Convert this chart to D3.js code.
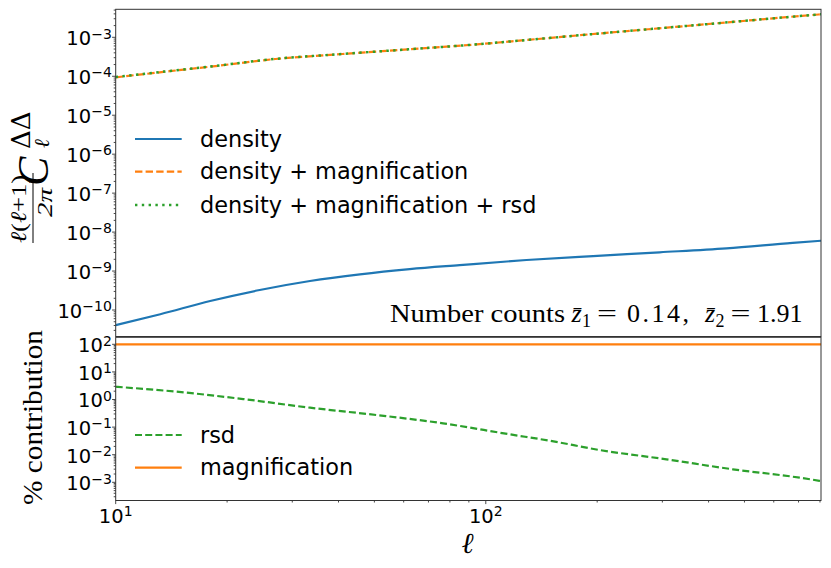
<!DOCTYPE html>
<html><head><meta charset="utf-8">
<script src="https://cdn.jsdelivr.net/npm/d3@7"></script>
<style>body{margin:0;background:#fff}svg{display:block}</style>
</head><body>
<script>
// ---- data ----
const ellTop = [10, 14, 18, 27, 41, 62, 90, 130, 200, 300, 450, 650, 805];
const densMag = [9.4e-5, 1.35e-4, 1.76e-4, 2.77e-4, 3.73e-4, 4.92e-4, 6.34e-4, 8.6e-4, 1.24e-3, 1.73e-3, 2.42e-3, 3.29e-3, 3.9e-3];
const densMagRsd = [9.6e-5, 1.37e-4, 1.78e-4, 2.79e-4, 3.74e-4, 4.93e-4, 6.35e-4, 8.6e-4, 1.24e-3, 1.73e-3, 2.42e-3, 3.29e-3, 3.9e-3];
const ellDens = [10, 13.2, 18, 24.5, 33.5, 45.7, 62.3, 85, 128.8, 195, 295, 447, 675, 805];
const density = [4.1e-11, 7.8e-11, 1.7e-10, 3.26e-10, 5.55e-10, 8.24e-10, 1.12e-9, 1.42e-9, 1.92e-9, 2.43e-9, 3.03e-9, 3.83e-9, 5.3e-9, 6.0e-9];
const ellRsd = [10, 14.6, 22.1, 33.5, 50.7, 76.7, 116, 149, 203, 307.6, 465, 705, 805];
const rsd = [2.9, 1.92, 1.04, 0.505, 0.274, 0.137, 0.0548, 0.0321, 0.0148, 0.0068, 0.00296, 0.00147, 0.00111];
const ellMag = [10, 30, 100, 300, 805];
const magnification = [100, 100, 100, 100, 100];
const topTickExps = [-3, -4, -5, -6, -7, -8, -9, -10];
const botTickExps = [2, 1, 0, -1, -2, -3];
const xTickExps = [1, 2];
const topLegend = ["density", "density + magnification", "density + magnification + rsd"];
const botLegend = ["rsd", "magnification"];

const W = 831, H = 568;
const C = {blue: "#1f77b4", orange: "#ff7f0e", green: "#2ca02c"};
const L = 115.7, R = 821;
const topT = 9.3, topB = 336.5, botT = 337.3, botB = 500.5;

const x = d3.scaleLog().domain([10, 805]).range([L, R]);
const yTop = d3.scaleLog().domain([Math.pow(10, -10.68), Math.pow(10, -2.281)]).range([topB, topT]);
const yBot = d3.scaleLog().domain([Math.pow(10, -3.659), Math.pow(10, 2.254)]).range([botB, botT]);

const svg = d3.select("body").append("svg").attr("width", W).attr("height", H);
const defs = svg.append("defs");
defs.append("clipPath").attr("id", "cTop").append("rect").attr("x", L).attr("y", topT).attr("width", R - L).attr("height", topB - topT);
defs.append("clipPath").attr("id", "cBot").append("rect").attr("x", L).attr("y", botT).attr("width", R - L).attr("height", botB - botT);

function drawLine(g, xs, ys, yS, color, dash, w) {
  const line = d3.line().curve(d3.curveMonotoneX).x((d, i) => x(xs[i])).y(d => yS(d));
  g.append("path").datum(ys).attr("d", line).attr("fill", "none")
    .attr("stroke", color).attr("stroke-width", w || 2.2)
    .attr("stroke-dasharray", dash || null);
}

const gTop = svg.append("g").attr("clip-path", "url(#cTop)");
drawLine(gTop, ellDens, density, yTop, C.blue);
drawLine(gTop, ellTop, densMag, yTop, C.orange, "7.4,3.2");
drawLine(gTop, ellTop, densMagRsd, yTop, C.green, "2.4,4.4", 2.5);

const gBot = svg.append("g").attr("clip-path", "url(#cBot)");
drawLine(gBot, ellMag, magnification, yBot, C.orange);
drawLine(gBot, ellRsd, rsd, yBot, C.green, "7,3.2");

// frames
const frame = svg.append("g").attr("fill", "none").attr("stroke", "#333").attr("stroke-width", 1);
frame.append("rect").attr("x", L).attr("y", topT).attr("width", R - L).attr("height", topB - topT);
frame.append("rect").attr("x", L).attr("y", botT).attr("width", R - L).attr("height", botB - botT);

// ticks
const tk = svg.append("g").attr("stroke", "#333").attr("stroke-width", 0.9);
function yTicks(yS, lo, hi) {
  for (let e = lo; e <= hi; e++) {
    for (let k = 1; k <= 9; k++) {
      const v = k * Math.pow(10, e);
      const [d0, d1] = yS.domain();
      if (v < d0 || v > d1) continue;
      const len = k === 1 ? 3.6 : 2;
      tk.append("line").attr("x1", L - len).attr("x2", L).attr("y1", yS(v)).attr("y2", yS(v));
    }
  }
}
yTicks(yTop, -11, -3);
yTicks(yBot, -4, 2);
for (let e = 1; e <= 2; e++) {
  for (let k = 1; k <= 9; k++) {
    const v = k * Math.pow(10, e);
    if (v < 10 || v > 805) continue;
    const len = k === 1 ? 3.6 : 2;
    tk.append("line").attr("y1", botB).attr("y2", botB + len).attr("x1", x(v)).attr("x2", x(v));
  }
}

// tick labels
const sans = "DejaVu Sans, sans-serif";
function powLabel(px, py, exp, anchor) {
  const t = svg.append("text").attr("x", px).attr("y", py)
    .attr("font-family", sans).attr("font-size", 19.5).attr("fill", "#000")
    .attr("text-anchor", anchor);
  t.append("tspan").text("10");
  t.append("tspan").attr("font-size", 14).attr("dy", -6.6).text(String(exp).replace("-", "\u2212"));
}
topTickExps.forEach(e => powLabel(111.8, yTop(Math.pow(10, e)) + 7.8, e, "end"));
botTickExps.forEach(e => powLabel(111.8, yBot(Math.pow(10, e)) + 7.8, e, "end"));
xTickExps.forEach(e => powLabel(x(Math.pow(10, e)), 523, e, "middle"));

// legends
function legend(items, colors, dashes, widths, ys) {
  items.forEach((name, i) => {
    svg.append("line").attr("x1", 135).attr("x2", 181.7).attr("y1", ys[i]).attr("y2", ys[i])
      .attr("stroke", colors[i]).attr("stroke-width", widths[i]).attr("stroke-dasharray", dashes[i] || null);
    svg.append("text").attr("x", 200).attr("y", ys[i] + 7.6).attr("font-family", sans)
      .attr("font-size", 22.4).attr("fill", "#000").text(name);
  });
}
legend(topLegend, [C.blue, C.orange, C.green], [null, "7.4,3.2", "2.4,4.4"], [2.2, 2.2, 2.5], [139, 171.7, 205]);
legend(botLegend, [C.green, C.orange], ["7,3.2", null], [2.2, 2.2], [435, 467.7]);

// annotation
const serif = "Liberation Serif, DejaVu Serif, serif";
const ann = svg.append("g").attr("font-family", serif).attr("font-size", 26).attr("fill", "#000");
function piece(tx, px, py, opts) {
  const t = ann.append("text").attr("x", px).attr("y", py).text(tx);
  if (opts && opts.italic) t.attr("font-style", "italic");
  if (opts && opts.size) t.attr("font-size", opts.size);
  if (opts && opts.len) t.attr("textLength", opts.len).attr("lengthAdjust", opts.adj || "spacingAndGlyphs");
  return t;
}
const by = 321.5;
piece("Number counts", 390, by, {len: 175});
piece("z\u0304", 571.5, by, {italic: true});
piece("1", 582, by + 5, {size: 18});
piece("=", 597, by, {len: 20});
piece("0.14,", 627, by, {len: 62, adj: "spacing"});
piece("z\u0304", 705, by, {italic: true});
piece("2", 715.5, by + 5, {size: 18});
piece("=", 730.5, by, {len: 20});
piece("1.91", 757, by);

// y label top: l(l+1)/2pi C_l^{DD}
const yl = svg.append("g").attr("transform", "translate(48,175) rotate(-90)")
  .attr("font-family", serif).attr("fill", "#000");
const num = yl.append("text").attr("x", -68).attr("y", -22).attr("font-size", 22)
  .attr("textLength", 68).attr("lengthAdjust", "spacingAndGlyphs");
num.append("tspan").attr("font-style", "italic").text("ℓ");
num.append("tspan").text("(");
num.append("tspan").attr("font-style", "italic").text("ℓ");
num.append("tspan").text("+1)");
yl.append("line").attr("x1", -68).attr("x2", 2).attr("y1", -15).attr("y2", -15)
  .attr("stroke", "#000").attr("stroke-width", 1);
yl.append("text").attr("x", -42).attr("y", 4).attr("font-size", 21).attr("font-style", "italic")
  .attr("textLength", 29).attr("lengthAdjust", "spacingAndGlyphs").text("2π");
yl.append("text").attr("x", -11).attr("y", 0).attr("font-size", 44).attr("font-style", "italic").text("C");
yl.append("text").attr("x", 27).attr("y", 1).attr("font-size", 21).attr("font-style", "italic").text("ℓ");
yl.append("text").attr("x", 26).attr("y", -18).attr("font-size", 26)
  .attr("font-family", "DejaVu Serif, serif").text("ΔΔ");

// y label bottom
svg.append("text").attr("transform", "translate(42,417.5) rotate(-90)")
  .attr("text-anchor", "middle").attr("font-family", serif).attr("font-size", 27)
  .attr("textLength", 175).attr("lengthAdjust", "spacingAndGlyphs").attr("fill", "#000")
  .text("% contribution");

// x label
svg.append("text").attr("x", 467.5).attr("y", 553).attr("text-anchor", "middle")
  .attr("font-family", serif).attr("font-size", 29).attr("font-style", "italic").attr("fill", "#000").text("ℓ");
</script>
</body></html>
